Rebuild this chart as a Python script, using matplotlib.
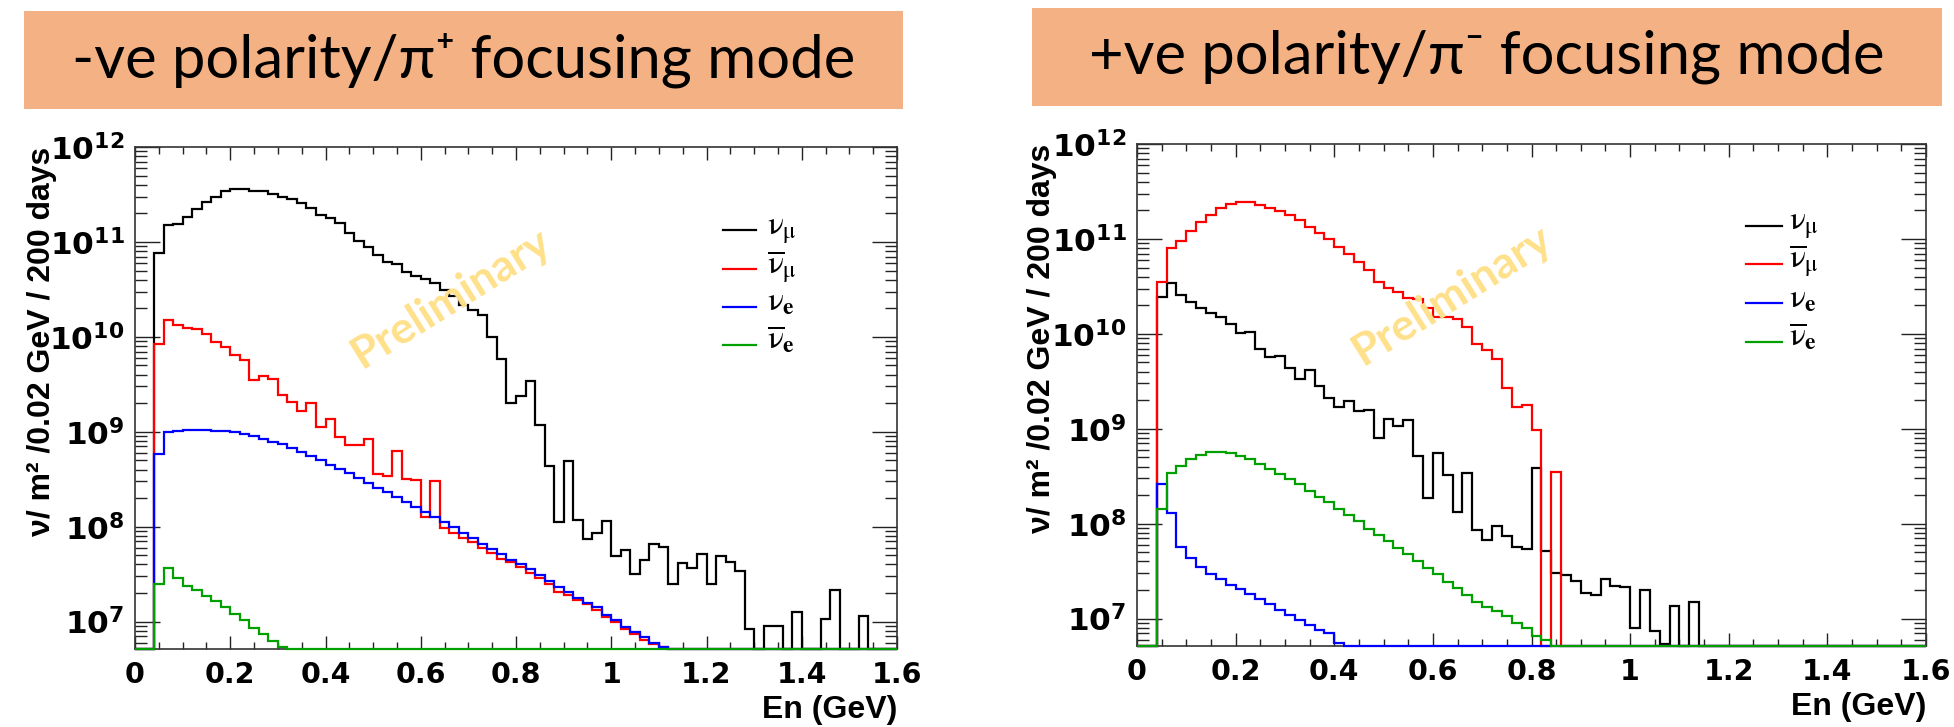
import numpy as np
import matplotlib
matplotlib.use("Agg")
import matplotlib.pyplot as plt
from matplotlib.patches import Rectangle
from matplotlib.lines import Line2D
from matplotlib.ticker import LogLocator, FuncFormatter, FixedLocator, MultipleLocator, NullFormatter

plt.rcParams['mathtext.fontset'] = 'custom'
plt.rcParams['mathtext.rm'] = 'DejaVu Sans:bold'
plt.rcParams['mathtext.it'] = 'DejaVu Sans:bold:italic'
plt.rcParams['mathtext.bf'] = 'DejaVu Sans:bold'

# ---------------- data (flux per 0.02 GeV bin, bins from 0 to 1.6 GeV) ----------------
N_BINS = 80
bin_edges = np.linspace(0.0, 1.6, N_BINS + 1)

# -ve polarity / pi+ focusing
left_numu = [0, 0, 7.7e10, 1.5e11, 1.55e11, 1.83e11, 2.2e11, 2.64e11, 3.0e11, 3.4e11,
             3.6e11, 3.6e11, 3.4e11, 3.4e11, 3.2e11, 2.95e11, 2.8e11, 2.55e11, 2.3e11, 1.9e11,
             1.8e11, 1.6e11, 1.25e11, 1.02e11, 8.85e10, 7.35e10, 6.15e10, 5.86e10, 4.83e10, 4.36e10,
             4.02e10, 3.7e10, 3.13e10, 2.68e10, 2.19e10, 1.94e10, 1.69e10, 1.0e10, 5.9e9, 2.0e9,
             2.37e9, 3.44e9, 1.19e9, 4.4e8, 1.13e8, 4.9e8, 1.17e8, 7.5e7, 8.5e7, 1.15e8,
             4.9e7, 5.7e7, 3.2e7, 4.5e7, 6.5e7, 6.15e7, 2.5e7, 4.1e7, 3.7e7, 5.2e7,
             2.5e7, 4.9e7, 4.3e7, 3.4e7, 8.4e6, 0, 8.9e6, 9.1e6, 0, 1.25e7,
             0, 0, 1.07e7, 2.15e7, 0, 0, 1.16e7, 0, 0, 0]
left_numubar = [0, 0, 8.5e9, 1.5e10, 1.33e10, 1.24e10, 1.2e10, 1.06e10, 8.85e9, 7.85e9,
                6.4e9, 5.7e9, 3.5e9, 3.9e9, 3.56e9, 2.47e9, 2.07e9, 1.66e9, 1.99e9, 1.11e9,
                1.36e9, 8.9e8, 7.2e8, 7.2e8, 8.4e8, 3.56e8, 3.4e8, 6.25e8, 3.2e8, 3.1e8,
                1.27e8, 3.0e8, 9.75e7, 8.5e7, 7.65e7, 6.95e7, 6.0e7, 5.3e7, 4.57e7, 4.2e7,
                3.73e7, 3.23e7, 2.86e7, 2.49e7, 2.07e7, 1.91e7, 1.69e7, 1.53e7, 1.33e7, 1.11e7,
                9.8e6, 8.4e6, 7.4e6, 6.4e6, 5.8e6, 5.4e6]
left_nue = [0, 0, 5.9e8, 9.85e8, 1.02e9, 1.05e9, 1.05e9, 1.05e9, 1.03e9, 1.02e9,
            9.9e8, 9.5e8, 9.0e8, 8.4e8, 7.9e8, 7.35e8, 6.8e8, 6.1e8, 5.6e8, 5.0e8,
            4.45e8, 4.05e8, 3.7e8, 3.28e8, 2.9e8, 2.58e8, 2.3e8, 2.07e8, 1.8e8, 1.63e8,
            1.42e8, 1.27e8, 1.12e8, 9.85e7, 8.65e7, 7.65e7, 6.6e7, 5.8e7, 5.15e7, 4.5e7,
            4.0e7, 3.56e7, 3.1e7, 2.7e7, 2.33e7, 2.07e7, 1.79e7, 1.58e7, 1.42e7, 1.17e7,
            1.04e7, 8.85e6, 7.85e6, 6.85e6, 6.0e6, 5.45e6]
left_nuebar = [0, 0, 2.5e7, 3.7e7, 2.86e7, 2.4e7, 2.15e7, 1.88e7, 1.63e7, 1.44e7,
               1.19e7, 1.04e7, 8.65e6, 7.4e6, 6.25e6, 5.4e6]

# +ve polarity / pi- focusing
right_numu = [0, 0, 2.47e10, 3.47e10, 2.58e10, 2.15e10, 1.89e10, 1.65e10, 1.49e10, 1.27e10,
              1.03e10, 1.04e10, 6.95e9, 5.77e9, 5.9e9, 4.36e9, 3.36e9, 4.18e9, 2.79e9, 2.12e9,
              1.68e9, 1.95e9, 1.53e9, 1.57e9, 8.0e8, 1.26e9, 1.08e9, 1.23e9, 5.2e8, 1.85e8,
              5.5e8, 3.25e8, 1.32e8, 3.4e8, 8.5e7, 6.7e7, 9.45e7, 7.4e7, 5.65e7, 5.4e7,
              3.86e8, 5.1e7, 3.06e7, 2.9e7, 2.47e7, 1.86e7, 1.79e7, 2.63e7, 2.22e7, 2.13e7,
              8.0e6, 1.98e7, 7.4e6, 5.4e6, 1.35e7, 0, 1.48e7]
right_numubar = [0, 0, 3.56e10, 7.98e10, 9.6e10, 1.22e11, 1.52e11, 1.79e11, 2.1e11, 2.32e11,
                 2.47e11, 2.43e11, 2.28e11, 2.1e11, 1.97e11, 1.79e11, 1.58e11, 1.35e11, 1.15e11, 9.9e10,
                 8.3e10, 6.95e10, 5.68e10, 4.72e10, 3.56e10, 3.03e10, 2.75e10, 2.41e10, 2.33e10, 1.86e10,
                 1.52e10, 1.49e10, 1.43e10, 1.19e10, 7.85e9, 6.7e9, 5.4e9, 2.72e9, 1.69e9, 1.79e9,
                 9.6e8, 0, 3.5e8]
right_nue = [0, 0, 2.6e8, 1.31e8, 5.64e7, 4.39e7, 3.52e7, 2.93e7, 2.62e7, 2.26e7,
             2.04e7, 1.8e7, 1.61e7, 1.42e7, 1.23e7, 1.09e7, 9.7e6, 8.6e6, 7.6e6, 7.0e6,
             5.5e6]
right_nuebar = [0, 0, 1.43e8, 3.4e8, 4.1e8, 4.8e8, 5.3e8, 5.7e8, 5.7e8, 5.5e8,
                5.2e8, 4.8e8, 4.25e8, 3.8e8, 3.3e8, 2.95e8, 2.6e8, 2.2e8, 1.92e8, 1.68e8,
                1.43e8, 1.23e8, 1.07e8, 8.9e7, 7.6e7, 6.5e7, 5.5e7, 4.75e7, 4.05e7, 3.4e7,
                2.93e7, 2.45e7, 2.12e7, 1.77e7, 1.51e7, 1.32e7, 1.19e7, 1.07e7, 9.0e6, 8.0e6,
                6.5e6, 5.9e6]

series_colors = ['#000000', '#ff0000', '#0000ff', '#00a000']
legend_labels = [r'$\mathrm{\nu}_{\mathrm{\mu}}$', r'$\overline{\mathrm{\nu}}_{\mathrm{\mu}}$',
                 r'$\mathrm{\nu}_{\mathbf{e}}$', r'$\overline{\mathrm{\nu}}_{\mathbf{e}}$']
titles = ['-ve polarity/π\u207a focusing mode', '+ve polarity/π\u207b focusing mode']
y_label = 'ν/ m² /0.02 GeV / 200 days'
x_label = 'En (GeV)'
x_tick_values = [0, 0.2, 0.4, 0.6, 0.8, 1.0, 1.2, 1.4, 1.6]
x_tick_labels = ['0', '0.2', '0.4', '0.6', '0.8', '1', '1.2', '1.4', '1.6']
Y_MIN, Y_MAX = 5.15e6, 1e12


def pad(vals):
    v = np.zeros(N_BINS)
    v[:len(vals)] = vals
    return v


panels = [
    dict(series=[left_numu, left_numubar, left_nue, left_nuebar],
         rect=[135 / 1954, 1 - 649 / 727, 762 / 1954, 502 / 727],
         box=[24 / 1954, 1 - 109 / 727, 879 / 1954, 98 / 727],
         leg_x=(0.771, 0.815, 0.830), leg_y=[0.834, 0.757, 0.682, 0.606],
         prelim=(0.415, 0.70), ylab_x=-0.112),
    dict(series=[right_numu, right_numubar, right_nue, right_nuebar],
         rect=[1137 / 1954, 1 - 646 / 727, 789 / 1954, 502 / 727],
         box=[1032 / 1954, 1 - 106 / 727, 910 / 1954, 98 / 727],
         leg_x=(0.772, 0.817, 0.826), leg_y=[0.837, 0.761, 0.683, 0.606],
         prelim=(0.399, 0.70), ylab_x=-0.110),
]

fig = plt.figure(figsize=(19.54, 7.27), dpi=100)
fig.patch.set_facecolor('white')

for p, title in zip(panels, titles):
    # title box
    bx, by, bw, bh = p['box']
    fig.add_artist(Rectangle((bx, by), bw, bh, transform=fig.transFigure,
                             facecolor='#F4B183', edgecolor='none'))
    fig.text(bx + bw / 2, by + bh / 2, title, ha='center', va='center',
             fontsize=43, family=['Lato', 'DejaVu Sans'], color='black')

    ax = fig.add_axes(p['rect'])
    ax.set_yscale('log')
    ax.set_xlim(0, 1.6)
    ax.set_ylim(Y_MIN, Y_MAX)

    for vals, col in zip(p['series'], series_colors):
        y = np.maximum(pad(vals), Y_MIN)
        ax.stairs(y, bin_edges, baseline=Y_MIN, color=col, lw=1.6, clip_on=False, zorder=3)

    # ticks
    ax.xaxis.set_major_locator(FixedLocator(x_tick_values))
    ax.xaxis.set_minor_locator(MultipleLocator(0.05))
    ax.set_xticklabels(x_tick_labels, fontfamily='DejaVu Sans', fontweight='bold', fontsize=20.5)
    ax.yaxis.set_major_locator(LogLocator(base=10, numticks=20))
    ax.yaxis.set_minor_locator(LogLocator(base=10, subs=np.arange(2, 10), numticks=20))
    ax.yaxis.set_minor_formatter(NullFormatter())
    ax.yaxis.set_major_formatter(FuncFormatter(lambda v, pos: r'$\mathbf{10^{%d}}$' % round(np.log10(v))))
    ax.tick_params(axis='both', which='both', direction='in', top=True, right=True,
                   color='#222222', width=1.0)
    ax.tick_params(axis='x', which='major', length=9.5, pad=8.5)
    ax.tick_params(axis='x', which='minor', length=5)
    ax.tick_params(axis='y', which='major', length=18, pad=7.5, labelsize=22.5)
    ax.tick_params(axis='y', which='minor', length=8.5)
    for s in ax.spines.values():
        s.set_color('#333333')
        s.set_linewidth(1.2)

    # axis titles
    ax.text(p['ylab_x'], 1.0, y_label, transform=ax.transAxes, rotation=90,
            rotation_mode='anchor', ha='right', va='baseline',
            fontsize=23, fontweight='bold', family='Liberation Sans')
    ax.text(1.0, -0.121, x_label, transform=ax.transAxes, ha='right', va='center',
            fontsize=23, fontweight='bold', family='Liberation Sans')

    # legend
    x0, x1, xt = p['leg_x']
    for yy, col, lab in zip(p['leg_y'], series_colors, legend_labels):
        ax.add_line(Line2D([x0, x1], [yy, yy], transform=ax.transAxes, color=col, lw=1.6))
        ax.text(xt, yy - 0.008, lab, transform=ax.transAxes, ha='left', va='baseline',
                fontsize=24, math_fontfamily='stix')

    # watermark
    ax.text(p['prelim'][0], p['prelim'][1], 'Preliminary', transform=ax.transAxes,
            rotation=32, ha='center', va='center', fontsize=32, fontweight='bold',
            family=['Lato', 'DejaVu Sans'], color='#FFE08A', zorder=5)

fig.savefig('out.png', dpi=100)
